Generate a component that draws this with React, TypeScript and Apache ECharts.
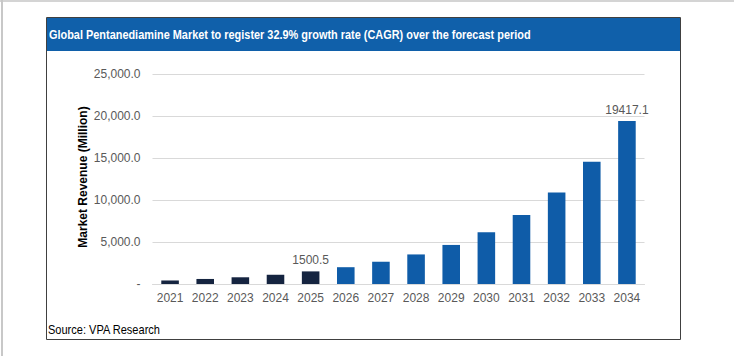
import React, { useEffect, useRef } from "react";
import * as echarts from "echarts";

const years = ["2021", "2022", "2023", "2024", "2025", "2026", "2027", "2028", "2029", "2030", "2031", "2032", "2033", "2034"];
const revenue = [420, 600, 800, 1100, 1500.5, 2000, 2650, 3520, 4650, 6150, 8200, 10900, 14550, 19417.1];
const historicalCount = 5;
const labelledYears = ["2025", "2034"];
const titleText = "Global Pentanediamine Market to register 32.9% growth rate (CAGR) over the forecast period";
const sourceText = "Source: VPA Research";
const yAxisTitle = "Market Revenue (Million)";

const HIST = "#152440";
const FCST = "#0f5ca8";
const FONT = "'Liberation Sans', Arial, sans-serif";

export default function App() {
  const ref = useRef<HTMLDivElement>(null);
  useEffect(() => {
    document.body.style.margin = "0";
    const chart = echarts.init(ref.current!, null, { renderer: "svg" });
    const data = revenue.map((v, i) => ({
      value: v,
      itemStyle: { color: i < historicalCount ? HIST : FCST },
      label: {
        show: labelledYears.includes(years[i]),
        position: "top",
        distance: 5,
        color: "#595959",
        fontSize: 12,
        fontFamily: FONT,
        formatter: (p: any) => String(p.value),
      },
    }));
    chart.setOption({
      animation: false,
      backgroundColor: "#ffffff",
      textStyle: { fontFamily: FONT },
      grid: { left: 152.5, right: 89.5, top: 74, bottom: 72 },
      xAxis: {
        type: "category",
        data: years,
        axisLine: { lineStyle: { color: "#d9d9d9" } },
        axisTick: { show: false },
        axisLabel: { color: "#595959", fontSize: 12, margin: 8, fontFamily: FONT },
      },
      yAxis: {
        type: "value",
        min: 0,
        max: 25000,
        interval: 5000,
        axisLine: { show: false },
        axisTick: { show: false },
        splitLine: { lineStyle: { color: "#d9d9d9" } },
        axisLabel: {
          color: "#595959",
          fontSize: 12,
          margin: 12,
          fontFamily: FONT,
          formatter: (v: number) =>
            v === 0 ? "-" : v.toLocaleString("en-US", { minimumFractionDigits: 1, maximumFractionDigits: 1 }),
        },
      },
      series: [
        {
          type: "bar",
          data,
          barWidth: "50%",
        },
      ],
      graphic: [
        { type: "rect", shape: { x: 0, y: 0, width: 734, height: 2 }, style: { fill: "#d4d4d4" }, silent: true },
        { type: "rect", shape: { x: 1, y: 0, width: 2, height: 356 }, style: { fill: "#c8c8c8" }, silent: true },
        {
          type: "rect",
          shape: { x: 46.5, y: 17.5, width: 634, height: 322 },
          style: { fill: "none", stroke: "#404040", lineWidth: 1 },
          silent: true,
          z: 10,
        },
        { type: "rect", shape: { x: 47, y: 18, width: 633, height: 33 }, style: { fill: "#1060aa" }, silent: true },
        {
          type: "text",
          x: 49,
          y: 34.5,
          scaleX: 0.84,
          style: {
            text: titleText,
            fill: "#ffffff",
            font: `bold 13px ${FONT}`,
            verticalAlign: "middle",
          },
          silent: true,
        },
        {
          type: "text",
          x: 82.5,
          y: 177,
          rotation: Math.PI / 2,
          style: {
            text: yAxisTitle,
            fill: "#000000",
            font: `bold 12px ${FONT}`,
            align: "center",
            verticalAlign: "middle",
          },
          silent: true,
        },
        {
          type: "text",
          x: 48,
          y: 330,
          scaleX: 0.92,
          style: {
            text: sourceText,
            fill: "#000000",
            font: `12px ${FONT}`,
            verticalAlign: "middle",
          },
          silent: true,
        },
      ],
    });
    return () => chart.dispose();
  }, []);
  return <div ref={ref} style={{ position: "absolute", left: 0, top: 0, width: 734, height: 356 }} />;
}
